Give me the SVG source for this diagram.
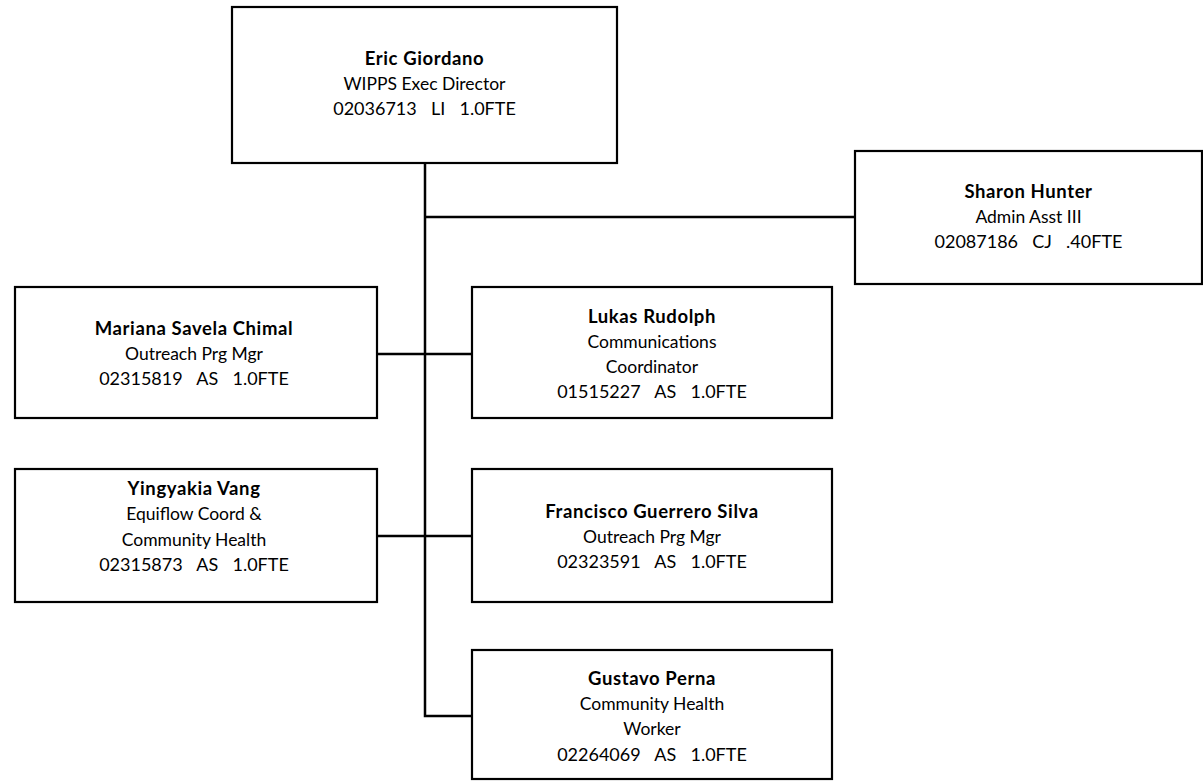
<svg xmlns="http://www.w3.org/2000/svg" width="1203" height="781" viewBox="0 0 1203 781">
<style>
.box{fill:#fff;stroke:#000;stroke-width:2.2}
.c{fill:none;stroke:#000;stroke-width:2.5}
text{font-family:Lato,"Open Sans","Liberation Sans",sans-serif;font-size:17.5px;fill:#000;text-anchor:middle}
.b{font-weight:bold;font-size:18.5px;letter-spacing:0.6px}
.n{font-size:18px;word-spacing:2.5px}
</style>
<rect width="1203" height="781" fill="#fff"/>
<g id="connectors">
<path class="c" d="M425,163 V716 H472"/>
<path class="c" d="M425,217 H855"/>
<path class="c" d="M377,354 H472"/>
<path class="c" d="M377,536 H472"/>
</g>
<g id="eric">
<rect class="box" x="232" y="7" width="385" height="156"/>
<text x="424.5" y="65" class="b">Eric Giordano</text>
<text x="424.5" y="90">WIPPS Exec Director</text>
<text x="424.5" y="115" class="n" xml:space="preserve">02036713  LI  1.0FTE</text>
</g>
<g id="sharon">
<rect class="box" x="855" y="151" width="347" height="133"/>
<text x="1028.5" y="198" class="b">Sharon Hunter</text>
<text x="1028.5" y="223">Admin Asst III</text>
<text x="1028.5" y="248" class="n" xml:space="preserve">02087186  CJ  .40FTE</text>
</g>
<g id="mariana">
<rect class="box" x="15" y="287" width="362" height="131"/>
<text x="194" y="335" class="b">Mariana Savela Chimal</text>
<text x="194" y="360">Outreach Prg Mgr</text>
<text x="194" y="385" class="n" xml:space="preserve">02315819  AS  1.0FTE</text>
</g>
<g id="lukas">
<rect class="box" x="472" y="287" width="360" height="131"/>
<text x="652" y="323" class="b">Lukas Rudolph</text>
<text x="652" y="348">Communications</text>
<text x="652" y="373">Coordinator</text>
<text x="652" y="398" class="n" xml:space="preserve">01515227  AS  1.0FTE</text>
</g>
<g id="yingyakia">
<rect class="box" x="15" y="469" width="362" height="133"/>
<text x="194" y="495" class="b">Yingyakia Vang</text>
<text x="194" y="520">Equiflow Coord &amp;</text>
<text x="194" y="546">Community Health</text>
<text x="194" y="571" class="n" xml:space="preserve">02315873  AS  1.0FTE</text>
</g>
<g id="francisco">
<rect class="box" x="472" y="469" width="360" height="133"/>
<text x="652" y="518" class="b">Francisco Guerrero Silva</text>
<text x="652" y="543">Outreach Prg Mgr</text>
<text x="652" y="568" class="n" xml:space="preserve">02323591  AS  1.0FTE</text>
</g>
<g id="gustavo">
<rect class="box" x="472" y="650" width="360" height="129"/>
<text x="652" y="685" class="b">Gustavo Perna</text>
<text x="652" y="710">Community Health</text>
<text x="652" y="735">Worker</text>
<text x="652" y="761" class="n" xml:space="preserve">02264069  AS  1.0FTE</text>
</g>
</svg>
